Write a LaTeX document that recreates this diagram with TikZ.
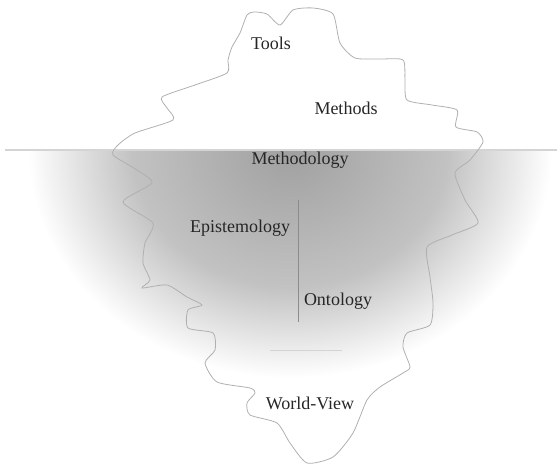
\documentclass[tikz,border=0pt]{standalone}
\usepackage{fontspec}
\setmainfont{Liberation Serif}
\definecolor{ICE}{HTML}{B0B0B0}
\definecolor{SEA}{HTML}{A0A0A0}
\definecolor{SHALLOW}{HTML}{C2C2C2}
\definecolor{WATER}{HTML}{D4D4D4}
\definecolor{RULE}{HTML}{8C8C8C}
\definecolor{INK}{HTML}{262626}
\pgfdeclareradialshading{deepsea}{\pgfpoint{0bp}{0bp}}{color(0bp)=(SEA); color(15bp)=(SHALLOW); color(25bp)=(white); color(50bp)=(white)}
\tikzset{label/.style={INK, anchor=base, font=\fontsize{18}{20}\selectfont}}

\begin{document}
\begin{tikzpicture}[x=1pt, y=1pt]
    \useasboundingbox (0,0) rectangle (557,465);
    \begin{scope}
        \clip (0,0) rectangle (557,315);
        \shade[shading=deepsea] (290,315) ellipse (262 and 228);
    \end{scope}
    \draw[WATER, line width=1.2pt] (5,315) -- (557,315);
    \draw[ICE, line width=0.8pt] plot[smooth cycle, tension=0.4] coordinates {
        (247,450) (254,453) (267,451) (280,440) (293,455) (313,457) (333,451)
        (340,422) (355,407) (380,406) (403,405) (405,385) (407,365) (432,360)
        (457,355) (456,338) (477,333) (483,323) (470,305) (455,292) (465,265)
        (478,242) (452,230) (427,218) (430,188) (433,162) (430,140) (407,132)
        (403,118) (410,98) (403,92) (380,78) (367,65) (353,32) (333,8) (307,2)
        (290,22) (277,42) (250,50) (247,62) (255,72) (250,77) (217,83) (205,102)
        (215,115) (213,132) (188,137) (188,155) (202,160) (187,168) (167,180)
        (142,177) (150,185) (143,202) (145,222) (153,242) (123,263) (152,282)
        (137,295) (113,310) (118,320) (135,332) (173,345) (167,357) (162,368)
        (195,380) (227,392) (228,405) (232,418) (240,432)};
    \draw[RULE, line width=0.7pt] (298,265) -- (298,143);
    \draw[WATER, line width=0.8pt] (270,115) -- (342,115);
    \node[label] (tools) at (271,415) {Tools};
    \node[label] (methods) at (346,350) {Methods};
    \node[label] (methodology) at (300,300) {Methodology};
    \node[label] (epistemology) at (240,232) {Epistemology};
    \node[label] (ontology) at (338,159) {Ontology};
    \node[label] (worldview) at (310,55) {World-View};
\end{tikzpicture}
\end{document}
